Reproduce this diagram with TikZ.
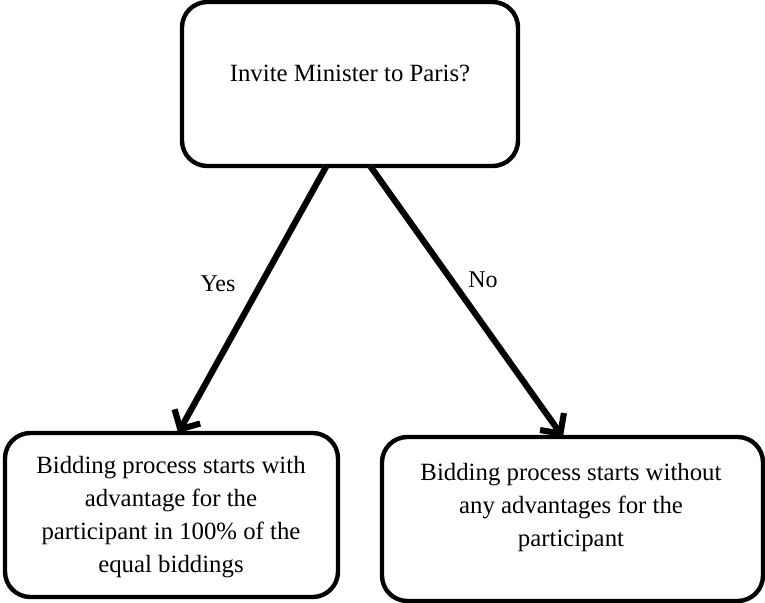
\documentclass[tikz,border=0pt]{standalone}
\usepackage{fontspec}
\setmainfont{Liberation Serif}
\usetikzlibrary{arrows.meta,calc}
\begin{document}
\begin{tikzpicture}[x=0.75pt,y=-0.75pt,
  box/.style={draw=black,line width=3.3pt,rounded corners=19pt,outer sep=0pt,fill=white},
  txt/.style={align=center,font=\fontsize{18.6pt}{24.75pt}\selectfont,inner sep=0pt},
  lbl/.style={font=\fontsize{18pt}{22pt}\selectfont,inner sep=0pt},
  conn/.style={line width=4.6pt,-{Straight Barb[length=11pt,width=22pt]}},
  shade/.style={line width=4.6pt,draw=black!30}]
\useasboundingbox (0,0) rectangle (765,603);
\fill[white] (0,0) rectangle (765,603);
% boxes
\node[box,minimum width=336*0.75pt,minimum height=164*0.75pt] (top) at (350,84) {};
\node[box,minimum width=333*0.75pt,minimum height=164*0.75pt] (left) at (171.5,515) {};
\node[box,minimum width=381*0.75pt,minimum height=164*0.75pt] (right) at (572.5,519) {};
% texts
\node[txt] (toptxt) at (350,73) {Invite Minister to Paris?};
\node[txt] (lefttxt) at (171,517) {Bidding process starts with\\advantage for the\\participant in 100\% of the\\equal biddings};
\node[txt] (righttxt) at (571,508) {Bidding process starts without\\any advantages for the\\participant};
% connector end points
\coordinate (ys) at ($(top.south west)!0.43!(top.south east)$);
\coordinate (ns) at ($(top.south west)!0.56!(top.south east)$);
\coordinate (ye) at ($(left.north west)!0.52!(left.north east)$);
\coordinate (ne) at ($(right.north west)!0.475!(right.north east)$);
% shadows
\begin{scope}[xshift=2pt,yshift=-0.6pt]
\draw[shade] (ys) -- ($(ys)!0.95!(ye)$);
\draw[shade] (ns) -- ($(ns)!0.95!(ne)$);
\end{scope}
\draw[conn] (ys) -- (ye);
\draw[conn] (ns) -- (ne);
\node[lbl] (yes) at (218,284) {Yes};
\node[lbl] (no) at (483,280) {No};
\end{tikzpicture}
\end{document}
